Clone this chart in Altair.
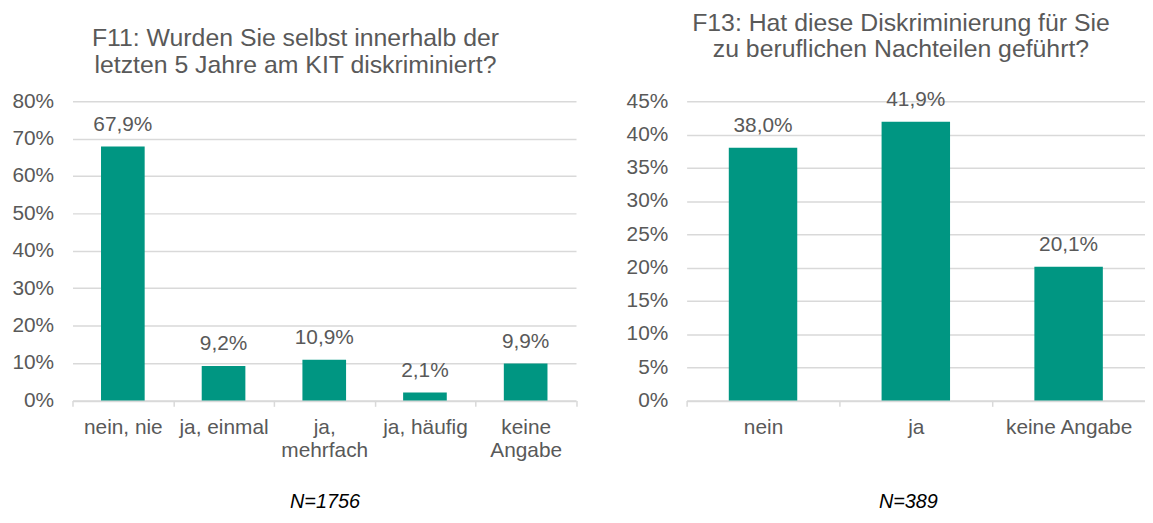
import altair as alt
import pandas as pd

# ---- data ----
f11_categories = ["nein, nie", "ja, einmal", "ja,|mehrfach", "ja, häufig", "keine|Angabe"]
f11_values = [67.9, 9.2, 10.9, 2.1, 9.9]
f11_ticks = [0, 10, 20, 30, 40, 50, 60, 70, 80]
f11_title = ["F11: Wurden Sie selbst innerhalb der", "letzten 5 Jahre am KIT diskriminiert?"]
f11_n = "N=1756"

f13_categories = ["nein", "ja", "keine Angabe"]
f13_values = [38.0, 41.9, 20.1]
f13_ticks = [0, 5, 10, 15, 20, 25, 30, 35, 40, 45]
f13_title = ["F13: Hat diese Diskriminierung für Sie", "zu beruflichen Nachteilen geführt?"]
f13_n = "N=389"

BAR = "#009682"
TEXT = "#595959"
GRID = "#D9D9D9"
FONT = "Liberation Sans"


def panel(cats, vals, ticks, title, n_label, width, bar_px, title_dx, title_offset, n_x, cropped):
    df = pd.DataFrame({"cat": cats, "val": vals})
    step = width / len(cats)
    axis_kw = dict(
        title=n_label,
        titleFont=FONT,
        titleFontSize=20,
        titleFontStyle="italic",
        titleFontWeight="normal",
        titleColor="#000000",
        titleBaseline="alphabetic",
        titleX=n_x,
        titleY=108,
        labelExpr="datum.value ? split(datum.value, '|') : ''",
        labelAngle=0,
        labelFont=FONT,
        labelFontSize=21,
        labelColor=TEXT,
        labelLineHeight=24,
        labelPadding=10,
        tickSize=6,
        tickColor=GRID,
        tickWidth=1.5,
        domainColor=GRID,
        domainWidth=1.5,
        grid=False,
    )
    if cropped:
        # the panel runs out at the right edge of the picture: ticks at band starts only
        axis_kw.update(tickOffset=-step / 2, labelOffset=step / 2)
    else:
        axis_kw.update(tickBand="extent")
    x = alt.X("cat:N", sort=cats, scale=alt.Scale(paddingInner=0, paddingOuter=0),
              axis=alt.Axis(**axis_kw))
    y = alt.Y(
        "val:Q",
        scale=alt.Scale(domain=[ticks[0], ticks[-1]], nice=False, zero=True),
        axis=alt.Axis(
            title=None,
            values=ticks,
            labelExpr="datum.value + '%'",
            labelFont=FONT,
            labelFontSize=21,
            labelColor=TEXT,
            labelPadding=19,
            ticks=False,
            domain=False,
            grid=True,
            gridColor=GRID,
            gridWidth=1.5,
        ),
    )
    bars = alt.Chart(df).mark_bar(color=BAR, width=alt.RelativeBandSize(bar_px / step)).encode(x=x, y=y)
    labels = (
        alt.Chart(df)
        .transform_calculate(lbl="replace(format(datum.val, '.1f'), '.', ',') + '%'")
        .mark_text(baseline="alphabetic", dy=-16, font=FONT, fontSize=21, color=TEXT)
        .encode(x=x, y=y, text="lbl:N")
    )
    return alt.layer(bars, labels).properties(
        width=width,
        height=301.5,
        title=alt.TitleParams(
            text=title,
            font=FONT,
            fontSize=25,
            fontWeight="normal",
            color=TEXT,
            lineHeight=27,
            anchor="middle",
            dx=title_dx,
            offset=title_offset,
        ),
    )


left = panel(f11_categories, f11_values, f11_ticks, f11_title, f11_n, 507.5, 44, -29, 12.5, 254, False)
right = panel(f13_categories, f13_values, f13_ticks, f13_title, f13_n, 462, 69, -15, 27, 223, True)

chart = (
    alt.hconcat(left, right, spacing=48)
    .properties(padding={"left": 3, "top": 0, "right": 0, "bottom": 0}, background="white")
    .configure_view(stroke=None)
)

chart.save("out.html", embed_options={"renderer": "svg", "actions": False})
